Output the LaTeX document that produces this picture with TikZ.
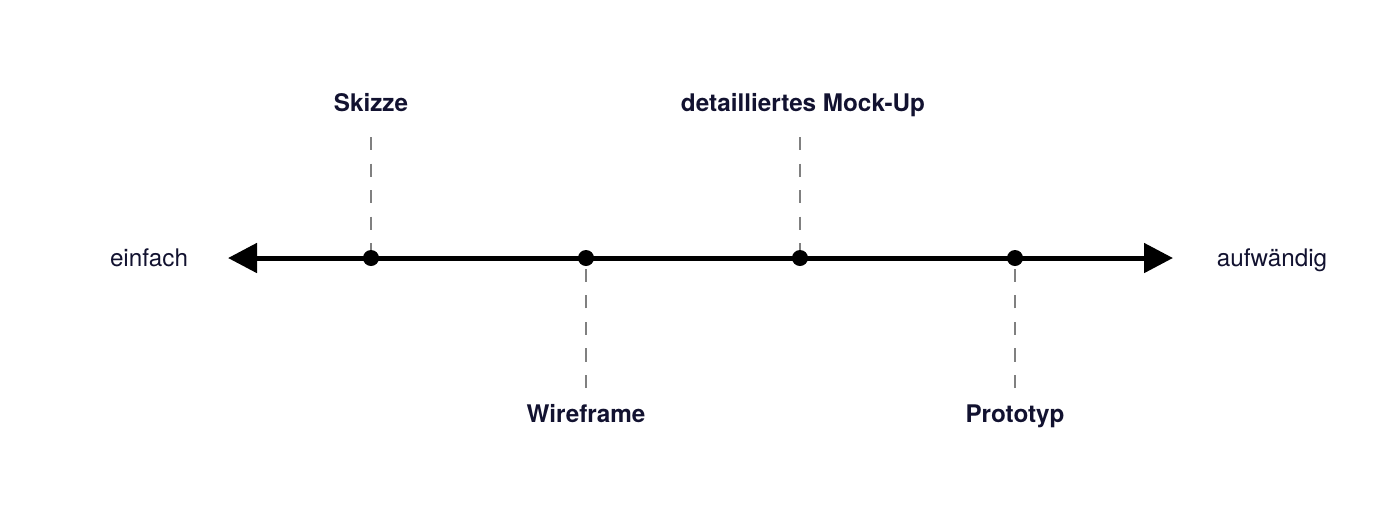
\documentclass[tikz,border=0pt]{standalone}
\usepackage{fontspec}
\setmainfont{TeX Gyre Heros}
\usetikzlibrary{arrows.meta}
\definecolor{navy}{RGB}{18,18,48}
\definecolor{dashgray}{RGB}{128,128,128}
\begin{document}
\begin{tikzpicture}[x=0.01cm,y=-0.01cm,
  lbl/.style={anchor=base,inner sep=0pt,text=navy,font=\fontsize{6.9pt}{8pt}\selectfont\bfseries},
  side/.style={anchor=base,inner sep=0pt,text=navy,font=\fontsize{6.9pt}{8pt}\selectfont},
  pt/.style={circle,fill=black,inner sep=0pt,minimum size=0.16cm},
  guide/.style={draw=dashgray,line width=0.012cm,dash pattern=on 0.13cm off 0.135cm},
  axis/.style={line width=0.05cm,{Triangle[length=0.29cm,width=0.29cm]}-{Triangle[length=0.29cm,width=0.29cm]}}]
\useasboundingbox (0,0) rectangle (1400,514);
\coordinate (L) at (228,258);
\coordinate (R) at (1173,258);
\draw[axis] (L) -- (R);
\coordinate (c1) at (371,258);
\coordinate (c2) at (586,258);
\coordinate (c3) at (800,258);
\coordinate (c4) at (1015,258);
\coordinate (sk) at (371,137);
\coordinate (mu) at (800,137);
\coordinate (wf) at (586,388);
\coordinate (pr) at (1015,388);
\draw[guide] (sk) -- (c1);
\draw[guide] (mu) -- (c3);
\draw[guide] (wf) -- (c2);
\draw[guide] (pr) -- (c4);
\node[pt] (d1) at (c1) {};
\node[pt] (d2) at (c2) {};
\node[pt] (d3) at (c3) {};
\node[pt] (d4) at (c4) {};
\node[lbl] (t1) at (371,111) {Skizze};
\node[lbl] (t3) at (803,111) {detailliertes Mock-Up};
\node[lbl] (t2) at (586,422) {Wireframe};
\node[lbl] (t4) at (1015,422) {Prototyp};
\node[side] (e) at (149,266) {einfach};
\node[side] (a) at (1272,266) {aufwändig};
\end{tikzpicture}
\end{document}
